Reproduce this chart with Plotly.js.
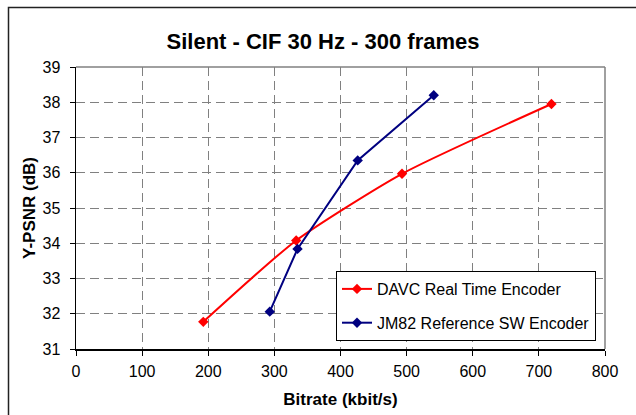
<!DOCTYPE html>
<html>
<head>
<meta charset="utf-8">
<script src="https://cdn.plot.ly/plotly-3.0.1.min.js"></script>
<style>html,body{margin:0;padding:0;background:#fff;}#chart{width:636px;height:415px;}</style>
</head>
<body>
<div id="chart"></div>
<script>
var davcX = [192.5, 333, 493, 719];
var davcY = [31.77, 34.08, 35.97, 37.95];
var jmX = [293, 335, 426, 541];
var jmY = [32.06, 33.84, 36.35, 38.2];
var xTicks = [0, 100, 200, 300, 400, 500, 600, 700, 800];
var yTicks = [31, 32, 33, 34, 35, 36, 37, 38, 39];
var FONT = 'Arial, "Liberation Sans", sans-serif';

var traces = [
  {x: davcX, y: davcY, name: 'DAVC Real Time Encoder', mode: 'lines+markers', legendgroup: 'a',
   line: {color: '#FF0000', width: 2, shape: 'spline', smoothing: 0.6},
   marker: {symbol: 'diamond', size: 8, color: '#FF0000'}},
  {x: jmX, y: jmY, name: 'JM82 Reference SW Encoder', mode: 'lines+markers', legendgroup: 'b',
   line: {color: '#000080', width: 2},
   marker: {symbol: 'diamond', size: 8, color: '#000080'}}
];

var L = 76, R = 31, T = 67, B = 66, W = 636 - L - R, H = 415 - T - B;
function px(p){ return (p - L) / W; }
function py(p){ return (415 - B - p) / H; }

var layout = {
  width: 636, height: 415,
  margin: {l: L, r: R, t: T, b: B},
  paper_bgcolor: '#fff', plot_bgcolor: '#fff',
  font: {family: FONT, color: '#000', size: 16},
  title: {text: '<b>Silent - CIF 30 Hz - 300 frames</b>', font: {size: 22, family: FONT, color: '#000'},
          x: 323/636, xanchor: 'center', xref: 'container', y: 1 - 41/415, yanchor: 'middle', yref: 'container'},
  xaxis: {range: [0, 800], tickvals: xTicks, ticktext: xTicks.map(String), showgrid: true, gridcolor: '#808080', griddash: '9px,5px', gridwidth: 1,
          zeroline: false, showline: true, linecolor: '#000', linewidth: 1.5, ticks: 'outside', ticklen: 5, tickcolor: '#000',
          ticklabelstandoff: 2, tickfont: {size: 16, family: FONT},
          title: {text: '<b>Bitrate (kbit/s)</b>', font: {size: 17, family: FONT}, standoff: 14}},
  yaxis: {range: [31, 39], tickvals: yTicks, ticktext: yTicks.map(String), showgrid: true, gridcolor: '#808080', griddash: '9px,5px', gridwidth: 1,
          zeroline: false, showline: true, linecolor: '#000', linewidth: 1.5, ticks: 'outside', ticklen: 5, tickcolor: '#000',
          ticklabelstandoff: 6, tickfont: {size: 16, family: FONT},
          title: {text: '<b>Y-PSNR (dB)</b>', font: {size: 17, family: FONT}, standoff: 2}},
  legend: {x: px(336), y: py(271), xanchor: 'left', yanchor: 'top', bgcolor: '#fff', bordercolor: '#000', borderwidth: 1,
           font: {size: 16, family: FONT}, traceorder: 'grouped', tracegroupgap: 10, itemwidth: 30},
  showlegend: true,
  shapes: [
    {type: 'line', xref: 'paper', yref: 'paper', x0: 0, x1: 1, y0: 1, y1: 1, line: {color: '#808080', width: 1.5}},
    {type: 'line', xref: 'paper', yref: 'paper', x0: 1, x1: 1, y0: 0, y1: 1, line: {color: '#808080', width: 1.5}},
    {type: 'rect', xref: 'paper', yref: 'paper', x0: px(8.5), x1: px(660), y0: py(440), y1: py(7.5), line: {color: '#222', width: 1.5}, layer: 'below'}
  ]
};
Plotly.newPlot('chart', traces, layout, {displayModeBar: false, staticPlot: true});
</script>
</body>
</html>
